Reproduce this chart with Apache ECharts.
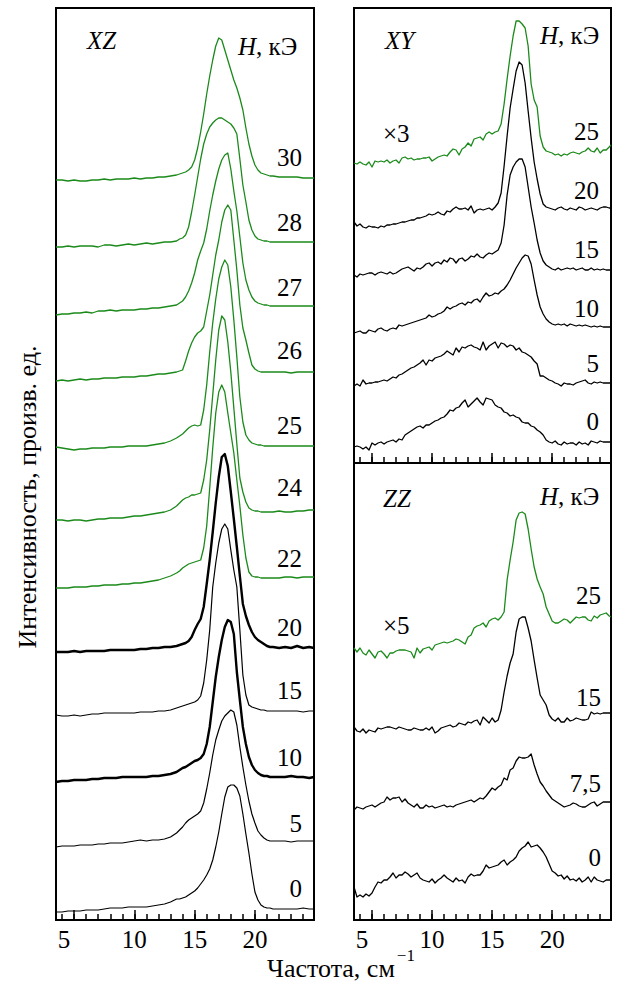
<!DOCTYPE html>
<html>
<head>
<meta charset="utf-8">
<script src="https://cdn.jsdelivr.net/npm/echarts@6/dist/echarts.min.js"></script>
<style>
html, body { margin: 0; padding: 0; background: #fff; }
#chart { width: 617px; height: 985px; }
#chart svg text, #chart svg tspan { font-family: "Liberation Serif", "DejaVu Serif", serif !important; }
</style>
</head>
<body>
<div id="chart"></div>
<script>
// Frequency grids (cm^-1)
const xzFreq = [3.5,4,4.5,5,5.5,6,6.5,7,7.5,8,8.5,9,9.5,10,10.5,11,11.5,12,12.5,13,13.5,
  13.75,14,14.25,14.5,14.75,15,15.25,15.5,15.75,16,16.25,16.5,16.75,17,17.25,17.5,17.75,18,18.25,18.5,18.75,19,19.25,19.5,19.75,20,20.25,20.5,20.75,21,21.25,21.5,
  22,22.5,23,23.5,24,24.5,24.9];
const sideFreq = [3.5,3.75,4,4.25,4.5,4.75,5,5.25,5.5,5.75,6,6.25,6.5,6.75,7,7.25,7.5,7.75,8,8.25,8.5,8.75,9,9.25,9.5,9.75,
  10,10.25,10.5,10.75,11,11.25,11.5,11.75,12,12.25,12.5,12.75,13,13.25,13.5,13.75,14,14.25,14.5,14.75,15,15.25,15.5,15.75,
  16,16.25,16.5,16.75,17,17.25,17.5,17.75,18,18.25,18.5,18.75,19,19.25,19.5,19.75,20,20.25,20.5,20.75,21,21.25,21.5,21.75,
  22,22.25,22.5,22.75,23,23.25,23.5,23.75,24,24.25,24.5,24.75,24.9];

// Tick labels
const majorTicks = [5, 10, 15, 20];
const minorTicks = [4,5,6,7,8,9,10,11,12,13,14,15,16,17,18,19,20,21,22,23,24];

// XZ geometry: field (kOe) and vertical offset of each trace
const xzFields = ['0','5','10','15','20','22','24','25','26','27','28','30'];
const xzOffsets = [8,73,138,205,268,332,400,473,539,605,673,740];

const xz0  = [0,0,1,1,1,2,2,2,3,4,4,4,5,5,5,5,6,7,8,10,13,
  13,14,15,17,19,21,24,28,32,37,43,52,65,80,98,115,125,127,127,124,116,98,78,59,38,20,12,7,5,4,4,3,
  3,3,3,3,4,3,3];
const xz5  = [0,1,1,1,2,2,2,3,3,4,4,4,5,6,7,6,7,7,8,10,14,
  17,20,24,27,29,31,33,36,44,58,74,92,107,117,126,131,134,137,135,122,100,80,62,46,33,24,16,12,9,7,6,6,
  6,6,5,6,6,6,6];
const xz10 = [0,1,1,2,2,2,3,3,4,4,4,5,5,5,5,5,6,6,7,8,10,
  12,14,15,17,19,21,22,24,28,38,55,80,105,125,142,155,162,160,148,110,82,55,38,25,17,12,9,7,6,6,5,5,
  5,5,6,5,5,4,5];
const xz15 = [0,-1,-1,0,-1,0,1,1,2,2,2,2,2,2,3,3,3,4,4,5,7,
  8,9,10,11,12,13,15,19,32,55,85,128,152,172,186,191,186,165,145,128,85,40,20,10,8,7,6,5,5,4,4,4,
  4,4,4,4,3,4,4];
const xz20 = [0,0,0,1,0,1,1,1,1,2,2,2,2,2,3,3,4,4,5,5,6,
  7,8,9,11,15,22,28,33,45,68,92,120,149,175,195,198,186,160,133,105,76,48,36,27,20,15,12,10,8,6,5,5,
  4,5,4,6,4,5,4];
const xz22 = [0,0,0,1,1,1,2,2,3,3,3,4,4,5,5,6,7,8,10,12,15,
  17,20,22,24,25,26,27,28,40,62,100,140,175,196,203,196,175,155,135,108,82,53,30,16,12,11,11,10,10,10,10,10,
  10,11,11,10,11,11,11];
const xz24 = [0,0,-1,0,0,-1,0,1,1,2,2,2,3,4,4,5,6,7,8,10,14,
  17,20,22,23,25,25,26,27,40,60,90,125,160,190,204,200,178,148,112,76,42,28,18,12,10,9,9,8,8,8,8,8,
  9,8,8,9,9,10,10];
const xz25 = [0,-1,-2,-3,-2,-2,-1,-1,-1,0,0,0,1,1,1,1,2,3,4,6,9,
  11,13,16,19,21,22,21,22,37,62,95,124,148,168,180,187,182,160,127,90,50,25,12,7,4,3,2,2,1,1,1,1,
  1,1,1,1,1,1,1];
const xz26 = [0,1,0,1,2,1,2,2,3,3,3,4,4,4,5,5,6,7,7,8,9,
  10,11,20,30,38,44,48,50,54,70,86,106,126,141,159,171,176,171,141,111,76,53,41,28,16,12,10,9,9,9,9,9,
  9,9,8,9,9,9,9];
const xz27 = [0,1,1,2,2,3,2,4,4,5,4,5,5,5,6,6,7,7,8,9,10,
  12,14,18,24,32,42,55,64,72,86,104,120,134,146,155,160,162,146,124,104,78,52,35,25,18,14,12,11,10,10,9,9,
  9,9,9,9,9,9,9];
const xz28 = [0,0,1,0,1,1,1,0,2,2,1,2,3,2,3,4,3,4,5,5,6,
  8,9,12,20,35,52,70,88,103,113,120,124,127,129,129,127,125,123,119,113,88,62,45,27,17,11,8,7,6,6,5,5,
  5,5,5,5,5,5,5];
const xz30 = [0,0,-1,0,-1,-1,0,0,1,0,1,1,1,2,1,2,2,3,3,4,5,
  6,7,8,10,13,20,32,48,66,86,104,120,134,142,140,130,120,110,100,92,82,70,52,36,24,15,10,7,6,5,4,4,
  3,3,3,3,2,2,2];

// XY geometry
const xyFields = ['0','5','10','15','20','25'];
const xyOffsets = [16,77,130,188,237,299];
const xy0  = [0,1,0,-2,0,-3,4,2,4,5, 3,5,6,7,5,8,7,12,14,16, 18,20,21,19,22,22,24,26,27,29, 30,33,37,36,39,40,44,47,40,43,
  46,49,45,42,49,48,47,42,40,39, 35,34,31,32,30,29,25,24,24,21, 20,17,15,12,7,5,4,6,3,2, 5,3,4,4,2,5,3,4,2,6, 5,4,6,5,5,5,5];
const xy5  = [0,2,0,6,2,3,3,4,4,5, 6,5,7,9,8,11,12,14,16,18, 19,21,23,26,21,26,25,28,29,30, 32,35,33,31,38,34,39,38,40,41,
  39,38,36,44,36,40,42,44,38,43, 42,39,41,40,36,38,34,33,31,29, 25,22,10,10,8,6,5,3,2,0, 3,2,2,1,3,4,5,6,3,2, 4,3,4,3,3,3,3];
const xy10 = [0,1,2,0,0,3,2,1,4,5, 3,2,4,5,4,8,7,8,9,10, 11,12,13,14,15,18,16,17,19,20, 22,26,24,26,27,29,30,28,31,30,
  33,34,31,36,40,37,38,40,39,42, 44,48,53,59,65,70,75,78,77,69, 53,38,26,19,14,11,9,8,9,8, 9,7,9,8,7,8,7,8,7,6, 7,6,7,6,6,6,6];
const xy15 = [0,-2,1,0,1,2,2,0,2,3, 2,1,3,1,2,4,6,7,8,6, 4,7,6,8,11,12,9,12,13,11, 15,13,17,16,12,16,17,14,16,19,
  18,21,18,17,20,22,21,23,25,32, 50,80,100,108,113,116,116,108,88,68, 52,35,22,14,10,8,6,5,7,5, 6,7,6,7,5,6,7,5,5,7, 5,6,5,6,5,5,5];
const xy20 = [4,0,2,-1,-2,0,-1,-1,-2,0, -1,1,1,2,2,3,4,4,5,6, 6,8,8,9,10,12,11,12,14,12, 11,15,14,17,19,17,17,18,16,20,
  13,16,17,16,17,18,16,19,23,33, 60,90,118,137,155,164,161,143,115,88, 64,47,32,22,19,18,17,16,18,19, 17,16,18,17,16,19,18,16,17,18, 17,16,18,19,19,18,18];
const xy25 = [1,0,2,0,-1,2,-3,3,2,3, 2,4,1,3,4,1,6,7,5,6, 4,5,5,6,6,7,3,5,7,8, 9,8,12,15,14,9,15,17,21,18,
  25,26,27,24,30,32,30,32,33,40, 60,85,108,128,143,143,140,136,118,80, 64,57,28,17,13,12,11,9,10,8, 10,9,11,12,11,10,12,13,16,13, 12,16,11,14,14,17,19];

// ZZ geometry
const zzFields = ['0','7,5','15','25'];
const zzOffsets = [25,110,190,270];
const zz0  = [8,-2,0,-2,1,-1,2,8,13,12, 15,15,18,22,17,20,20,23,21,18, 20,22,17,15,14,13,16,12,15,17, 20,17,15,13,17,14,15,12,18,21,
  19,20,20,24,30,27,28,29,30,33, 35,30,33,35,38,44,47,49,53,48, 49,50,47,43,38,31,24,22,19,20, 16,19,15,16,14,17,13,15,18,13, 18,15,14,13,15,15,15];
const zz75 = [0,3,2,1,3,4,5,3,5,7, 8,13,10,12,12,13,8,11,7,5, 3,6,2,2,5,3,4,2,3,4, 5,3,4,3,5,6,7,8,9,10,
  8,10,12,11,14,18,22,20,23,25, 32,30,40,42,49,53,52,52,53,56, 45,36,28,24,19,15,11,9,7,5, 3,4,5,7,6,4,3,3,5,7, 8,4,6,8,8,8,8];
const zz15 = [3,-1,-2,1,-3,0,-1,-2,2,1, 2,3,3,2,1,3,2,1,0,0, 2,1,0,0,2,0,3,-3,-1,2, 3,4,5,3,4,7,6,5,8,7,
  9,10,5,13,10,7,12,8,10,20, 38,54,67,76,98,111,113,113,102,89, 70,52,35,30,25,15,11,9,12,8, 8,12,9,10,12,11,10,10,11,18, 16,17,16,17,17,17,17];
const zz25 = [2,-2,2,-3,-5,0,-4,-8,-2,-1, -4,-8,-3,-3,-1,0,0,0,-1,-2, -8,2,-3,1,2,3,0,5,6,7, 8,7,8,9,11,10,8,6,13,15,
  22,24,25,27,23,29,31,32,30,33, 38,70,90,108,130,137,138,136,121,101, 83,71,63,56,43,36,29,27,27,29, 31,30,27,30,33,32,33,33,30,29, 34,32,35,36,37,34,33];

const xzSpectra = [xz0, xz5, xz10, xz15, xz20, xz22, xz24, xz25, xz26, xz27, xz28, xz30];
const xySpectra = [xy0, xy5, xy10, xy15, xy20, xy25];
const zzSpectra = [zz0, zz75, zz15, zz25];

const SERIF = '"Liberation Serif", "DejaVu Serif", serif';
const GREEN = '#1b8a1b';
const BLACK = '#000';

function traceStyle(panel, field) {
  if (panel === 'XZ') {
    if (['22','24','25','26','27','28','30'].includes(field)) return { color: GREEN, width: 1.3 };
    if (field === '10' || field === '20') return { color: BLACK, width: 2.4 };
    return { color: BLACK, width: 1.2 };
  }
  if (field === '25') return { color: GREEN, width: 1.3 };
  return { color: BLACK, width: 1.3 };
}

const series = [];
function addPanel(panel, fields, offsets, spectra, freq, axisIndex) {
  fields.forEach((f, k) => {
    const st = traceStyle(panel, f);
    series.push({
      type: 'line',
      name: panel + ' ' + f,
      xAxisIndex: axisIndex * 2,
      yAxisIndex: axisIndex,
      showSymbol: false,
      symbol: 'none',
      animation: false,
      lineStyle: { color: st.color, width: st.width, join: 'round' },
      data: freq.map((x, i) => [x, offsets[k] + spectra[k][i]])
    });
  });
}
addPanel('XZ', xzFields, xzOffsets, xzSpectra, xzFreq, 0);
addPanel('XY', xyFields, xyOffsets, xySpectra, sideFreq, 1);
addPanel('ZZ', zzFields, zzOffsets, zzSpectra, sideFreq, 2);

function majorAxis(gridIndex, showLabels) {
  return {
    type: 'value', gridIndex, min: 3.5, max: 24.9, position: 'bottom', offset: 0,
    axisLine: { show: true, onZero: false, lineStyle: { color: BLACK, width: 2 } },
    axisTick: { show: true, inside: true, length: 10, customValues: majorTicks, lineStyle: { color: BLACK, width: 1.5 } },
    axisLabel: {
      show: showLabels, customValues: majorTicks, margin: 7,
      color: BLACK, fontFamily: SERIF, fontSize: 25,
      formatter: v => (v === 5 ? '{shift|5}' : String(v)),
      rich: { shift: { padding: [0, 20, 0, 0], fontFamily: SERIF, fontSize: 25, color: BLACK } }
    },
    splitLine: { show: false }
  };
}
function minorAxis(gridIndex) {
  return {
    type: 'value', gridIndex, min: 3.5, max: 24.9, position: 'bottom', offset: 0,
    axisLine: { show: false, onZero: false },
    axisTick: { show: true, inside: true, length: 6, customValues: minorTicks, lineStyle: { color: BLACK, width: 1.5 } },
    axisLabel: { show: false },
    splitLine: { show: false }
  };
}
function hiddenY(gridIndex, max) {
  return { type: 'value', gridIndex, min: 0, max, show: false, splitLine: { show: false } };
}

const frame = { show: true, borderColor: BLACK, borderWidth: 2, backgroundColor: 'transparent', outerBoundsMode: 'none', containLabel: false };

// text helpers
function txt(x, y, text, align, size, extra) {
  const st = Object.assign({
    text, fill: BLACK, fontFamily: SERIF, fontSize: size || 25,
    align: align || 'right', verticalAlign: 'middle'
  }, extra || {});
  return { type: 'text', x, y, silent: true, style: st };
}
function fieldHeader(x, y) {
  return txt(x, y, '{i|H}{r|, кЭ}', 'left', 25, {
    rich: {
      i: { fontFamily: SERIF, fontSize: 25, fontStyle: 'italic', fill: BLACK },
      r: { fontFamily: SERIF, fontSize: 25, fill: BLACK }
    }
  });
}

const ctx = document.createElement('canvas').getContext('2d');
ctx.font = '26px ' + SERIF;
const freqTitle = 'Частота, см';
const freqTitleW = ctx.measureText(freqTitle).width;

const xzLabelY = [888, 823, 757, 690, 627, 558, 487, 425, 350, 287, 222, 157];
const xyLabelY = [421, 363, 308, 249, 190, 131];
const zzLabelY = [857, 783, 697, 595];

const graphic = [];
xzFields.forEach((f, k) => graphic.push(txt(302, xzLabelY[k], f, 'right')));
xyFields.forEach((f, k) => graphic.push(txt(599, xyLabelY[k], f, 'right')));
zzFields.forEach((f, k) => graphic.push(txt(601, zzLabelY[k], f, 'right')));
graphic.push(txt(87, 40, 'XZ', 'left', 25, { fontStyle: 'italic' }));
graphic.push(txt(385, 40, 'XY', 'left', 25, { fontStyle: 'italic' }));
graphic.push(txt(383, 498, 'ZZ', 'left', 25, { fontStyle: 'italic' }));
graphic.push(fieldHeader(238, 46));
graphic.push(fieldHeader(540, 35));
graphic.push(fieldHeader(540, 496));
graphic.push(txt(383, 133, '×3', 'left'));
graphic.push(txt(383, 625, '×5', 'left'));
graphic.push(txt(267, 968, freqTitle, 'left', 26));
graphic.push(txt(267 + freqTitleW + 2, 955, '−1', 'left', 17));
graphic.push({
  type: 'text', x: 27, y: 497, rotation: Math.PI / 2, silent: true,
  style: { text: 'Интенсивность, произв. ед.', fill: BLACK, fontFamily: SERIF, fontSize: 26,
    align: 'center', verticalAlign: 'middle' }
});

const chart = echarts.init(document.getElementById('chart'), null, { renderer: 'svg' });
chart.setOption({
  animation: false,
  backgroundColor: '#fff',
  grid: [
    Object.assign({ left: 56, top: 8, width: 258, height: 912 }, frame),
    Object.assign({ left: 354, top: 8, width: 257, height: 455 }, frame),
    Object.assign({ left: 354, top: 463, width: 257, height: 457 }, frame)
  ],
  xAxis: [
    majorAxis(0, true), minorAxis(0),
    majorAxis(1, false), minorAxis(1),
    majorAxis(2, true), minorAxis(2)
  ],
  yAxis: [hiddenY(0, 912), hiddenY(1, 455), hiddenY(2, 457)],
  series,
  graphic
});
</script>
</body>
</html>
